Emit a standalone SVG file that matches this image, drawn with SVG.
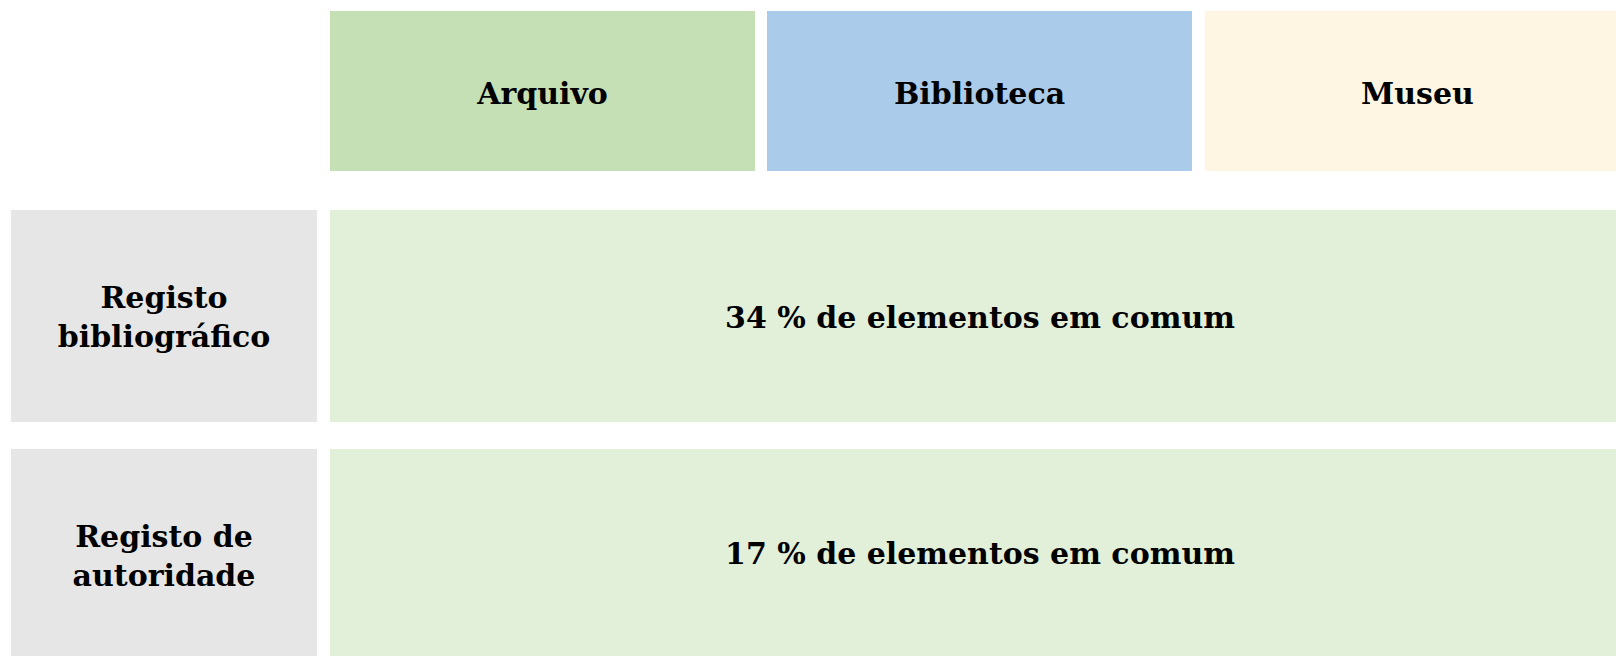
<svg xmlns="http://www.w3.org/2000/svg" width="1616" height="656" viewBox="0 0 1616 656">
<style>
text{font-family:"DejaVu Serif",serif;font-weight:bold;font-size:30px;fill:#000;text-anchor:middle}
</style>
<rect width="1616" height="656" fill="#fff"/>
<g id="arquivo"><rect x="330" y="11" width="425" height="160" fill="#C5E0B4"/><text x="542.5" y="104">Arquivo</text></g>
<g id="biblioteca"><rect x="767" y="11" width="425" height="160" fill="#ABCBEA"/><text x="979.5" y="104">Biblioteca</text></g>
<g id="museu"><rect x="1205" y="11" width="425" height="160" fill="#FEF6E3"/><text x="1417.5" y="104">Museu</text></g>
<g id="registo-bib"><rect x="11" y="210" width="306" height="212" fill="#E6E6E6"/><text x="164" y="308">Registo</text><text x="164" y="347">bibliográfico</text></g>
<g id="pct-bib"><rect x="330" y="210" width="1300" height="212" fill="#E2EFD9"/><text x="980" y="328">34 % de elementos em comum</text></g>
<g id="registo-aut"><rect x="11" y="449" width="306" height="220" fill="#E6E6E6"/><text x="164" y="547">Registo de</text><text x="164" y="586">autoridade</text></g>
<g id="pct-aut"><rect x="330" y="449" width="1300" height="220" fill="#E2EFD9"/><text x="980" y="564">17 % de elementos em comum</text></g>
<g id="connectors"/>
</svg>
